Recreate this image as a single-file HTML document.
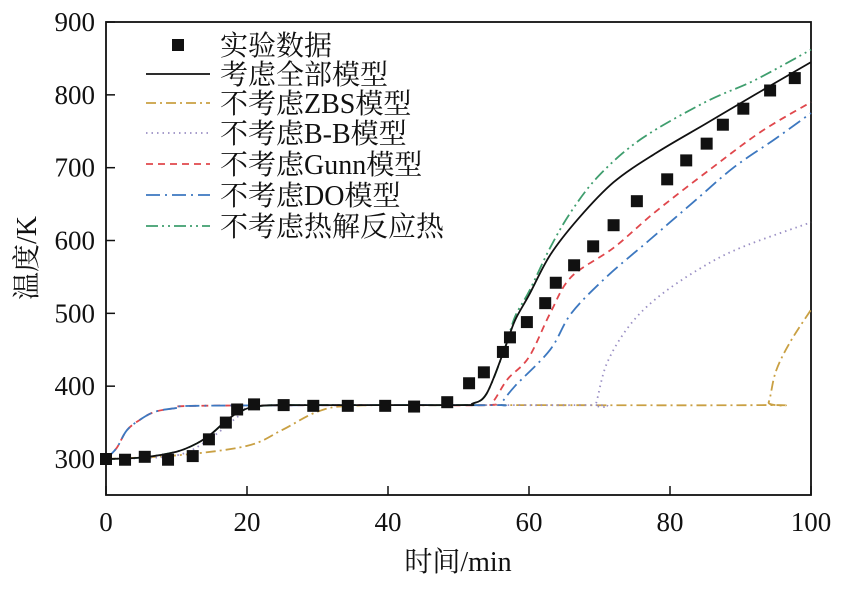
<!DOCTYPE html>
<html><head><meta charset="utf-8"><style>
body{margin:0;background:#fff}
svg text{font-family:"Liberation Serif","Noto Serif CJK SC",serif;fill:#111}
</style></head><body>
<svg id="chart" width="843" height="590" xmlns="http://www.w3.org/2000/svg">
<g id="axes"></g><g id="series"></g><g id="legend"></g>
</svg>
<script>
const xTicks=[0,20,40,60,80,100];
const yTicks=[300,400,500,600,700,800,900];
const expX=[0,2.7,5.5,8.8,12.3,14.6,17,18.6,21,25.2,29.4,34.3,39.6,43.7,48.4,51.5,53.6,56.3,57.3,59.7,62.3,63.8,66.4,69.1,72,75.3,79.6,82.3,85.2,87.5,90.4,94.2,97.7];
const expY=[300,299,303,299,304,327,350,368,375,374,373,373,373,372,378,404,419,447,467,488,514,542,566,592,621,654,684,710,733,759,781,806,823];
const fullX=[0,5,10,13,15,17,19,22,30,50,52,54,56.5,58,60,63,67,72,78,85,92,100];
const fullY=[300,302,310,322,335,352,365,373,374,374,376,390,450,490,525,580,630,680,720,760,800,845];
const zbsX=[0,10,20,25,30,35,50,93,94,95,97,100];
const zbsY=[300,305,318,340,365,373,374,374,378,420,460,505];
const bbX=[0,10,15,19,22,40,69,69.5,71,74,78,84,90,100];
const bbY=[300,305,330,360,373,374,374,376,430,480,520,560,590,625];
const gunnX=[0,1.5,3,5,7,10,13,40,54,55,57,60,63,66,72,78,86,93,100];
const gunnY=[300,315,340,355,365,370,373,374,374,380,410,440,500,550,590,640,700,750,790];
const doX=[0,1.5,3,5,7,10,13,40,55.5,56,58,63,66,71,77,83,89,95,100];
const doY=[300,315,340,355,365,370,373,374,374,376,400,450,500,550,600,650,700,740,775];
const heatX=[0,5,10,13,15,17,19,22,30,50,52,54,56.5,58,60,63,66,70,76,85,92,100];
const heatY=[300,302,310,322,335,352,365,373,374,374,376,390,450,495,530,590,640,690,740,790,820,862];
const X=v=>106+v*7.05, Y=v=>459-(v-300)*0.7283;
const NS="http://www.w3.org/2000/svg";
function mk(t,a,p){const e=document.createElementNS(NS,t);for(const k in a)e.setAttribute(k,a[k]);p.appendChild(e);return e;}
function smooth(xs,ys){
 const P=xs.map((v,i)=>[X(v),Y(ys[i])]);
 let d='M'+P[0][0].toFixed(1)+','+P[0][1].toFixed(1);
 for(let i=0;i<P.length-1;i++){
  const p0=P[Math.max(0,i-1)],p1=P[i],p2=P[i+1],p3=P[Math.min(P.length-1,i+2)];
  const c1=[p1[0]+(p2[0]-p0[0])/6,p1[1]+(p2[1]-p0[1])/6];
  const c2=[p2[0]-(p3[0]-p1[0])/6,p2[1]-(p3[1]-p1[1])/6];
  d+='C'+c1.map(n=>n.toFixed(1)).join(',')+' '+c2.map(n=>n.toFixed(1)).join(',')+' '+p2.map(n=>n.toFixed(1)).join(',');
 }
 return d;
}
const ax=document.getElementById('axes'),se=document.getElementById('series'),lg=document.getElementById('legend');
const frame=mk('rect',{x:106,y:22,width:705,height:473,fill:'none',stroke:'#111','stroke-width':1.8},ax);


xTicks.forEach(v=>{
 const l=mk('line',{x1:X(v),x2:X(v),y1:495,y2:486,stroke:'#111','stroke-width':1.5},ax);
 
 
 const t=mk('text',{x:X(v),y:531,'text-anchor':'middle','font-size':27},ax);t.textContent=v;
 
 
});
yTicks.forEach(v=>{
 const l=mk('line',{x1:106,x2:115,y1:Y(v),y2:Y(v),stroke:'#111','stroke-width':1.5},ax);
 
 
 const t=mk('text',{x:95,y:Y(v)+9,'text-anchor':'end','font-size':27},ax);t.textContent=v;
 
 
});
const xt=mk('text',{x:458,y:571,'text-anchor':'middle','font-size':28},ax);xt.textContent='时间/min';


const yt=mk('text',{x:0,y:0,'text-anchor':'middle','font-size':28,transform:'translate(36,258) rotate(-90)'},ax);yt.textContent='温度/K';


const series=[
 {n:'series-no-zbs',x:zbsX,y:zbsY,c:'#c9a043',d:'10 4 2 4'},
 {n:'series-no-bb',x:bbX,y:bbY,c:'#9a8fc4',d:'1.5 4'},
 {n:'series-no-gunn',x:gunnX,y:gunnY,c:'#e0474c',d:'7 5'},
 {n:'series-no-do',x:doX,y:doY,c:'#3d78c0',d:'14 5 2 5'},
 {n:'series-no-pyrolysis-heat',x:heatX,y:heatY,c:'#3f9e6e',d:'12 4 2 4 2 4'},
 {n:'series-full-model',x:fullX,y:fullY,c:'#111',d:''}
];
series.forEach(s=>{
 const p=mk('path',{d:smooth(s.x,s.y),fill:'none',stroke:s.c,'stroke-width':1.8,'stroke-dasharray':s.d,'stroke-linejoin':'round'},se);
 
 
});
expX.forEach((v,i)=>{
 const r=mk('rect',{x:X(v)-6,y:Y(expY[i])-6,width:12,height:12,fill:'#111'},se);
 
 
});
const legItems=[['实验数据',null],['考虑全部模型',series[5]],['不考虑ZBS模型',series[0]],['不考虑B-B模型',series[1]],['不考虑Gunn模型',series[2]],['不考虑DO模型',series[3]],['不考虑热解反应热',series[4]]];
const rows=[45,74,103,133,164,195,226];
legItems.forEach((it,i)=>{
 const g=mk('g',{},lg);
 
 
 const y=rows[i];
 if(!it[1]) mk('rect',{x:172,y:y-6,width:12,height:12,fill:'#111'},g);
 else mk('line',{x1:146,x2:210,y1:y,y2:y,stroke:it[1].c,'stroke-width':1.8,'stroke-dasharray':it[1].d},g);
 const t=mk('text',{x:220,y:y+10,'font-size':28},g);t.textContent=it[0];
});
</script>
</body></html>
